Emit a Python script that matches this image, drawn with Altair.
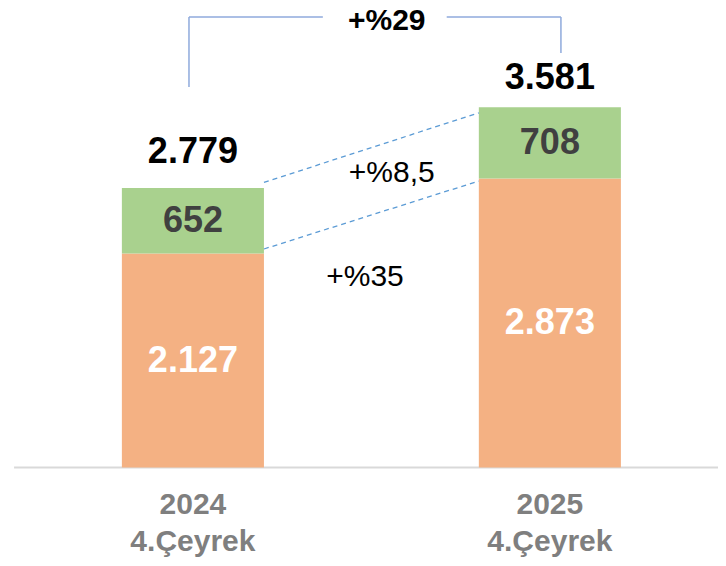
import altair as alt
import pandas as pd

# ---- data ----
periods = ["2024\n4.Çeyrek", "2025\n4.Çeyrek"]
base_values = [2127, 2873]      # orange segment
top_values = [652, 708]         # green segment
totals = [2779, 3581]
growth_total = "+%29"
growth_top = "+%8,5"
growth_base = "+%35"

# ---- style / layout constants ----
ORANGE = "#F4B183"
GREEN = "#A9D18E"
DARK = "#404040"
GRAY = "#7F7F7F"
BLUE_DASH = "#5B9BD5"
BLUE_BRACKET = "#8FAADC"
FONT = "Liberation Sans"

X_DOMAIN = [-0.518, 1.471]
Y_DOMAIN = [-900, 4568]
HALF = 0.199                       # half bar width in x units
TOTAL_LABEL_LIFT = [358, 288]      # label lift above bar tops (y units)
CAT_LABEL_Y = -373
BRACKET_TOP = 4478
BRACKET_LEFT_BOTTOM = 3782
BRACKET_RIGHT_BOTTOM = 4120
BRACKET_X = [-0.011, 1.031]
BRACKET_GAP = [0.364, 0.711]
GROWTH_TOTAL_POS = (0.543, 4440)
GROWTH_TOP_POS = (0.557, 2927)
GROWTH_BASE_POS = (0.482, 1894)

xs = alt.Scale(domain=X_DOMAIN, nice=False, zero=False)
ys = alt.Scale(domain=Y_DOMAIN, nice=False, zero=False)

# segments
seg_rows = []
for i in range(len(periods)):
    seg_rows.append(dict(x0=i - HALF, x1=i + HALF, y0=0, y1=base_values[i],
                         color=ORANGE, label=f"{base_values[i]:,}".replace(",", "."),
                         lc="white", xm=i, ym=base_values[i] / 2))
    seg_rows.append(dict(x0=i - HALF, x1=i + HALF, y0=base_values[i], y1=totals[i],
                         color=GREEN, label=f"{top_values[i]:,}".replace(",", "."),
                         lc=DARK, xm=i, ym=base_values[i] + top_values[i] / 2))
seg = pd.DataFrame(seg_rows)

tot = pd.DataFrame(dict(x=[0, 1],
                        y=[totals[i] + TOTAL_LABEL_LIFT[i] for i in range(2)],
                        label=[f"{t:,}".replace(",", ".") for t in totals]))
cats = pd.DataFrame(dict(x=[0, 1], y=[CAT_LABEL_Y] * 2, label=periods))

baseline = pd.DataFrame(dict(x=[-0.501], x2=[X_DOMAIN[1]], y=[0], y2=[0]))

bracket = pd.DataFrame(dict(
    x=[BRACKET_X[0], BRACKET_X[0], BRACKET_GAP[1], BRACKET_X[1]],
    x2=[BRACKET_X[0], BRACKET_GAP[0], BRACKET_X[1], BRACKET_X[1]],
    y=[BRACKET_LEFT_BOTTOM, BRACKET_TOP, BRACKET_TOP, BRACKET_RIGHT_BOTTOM],
    y2=[BRACKET_TOP, BRACKET_TOP, BRACKET_TOP, BRACKET_TOP],
))

connectors = pd.DataFrame(dict(
    x=[HALF, HALF],
    x2=[1 - HALF, 1 - HALF],
    y=[totals[0] + 55, base_values[0] + 45],
    y2=[totals[1] - 55, base_values[1] - 25],
))

growth = pd.DataFrame(dict(
    x=[GROWTH_TOP_POS[0], GROWTH_BASE_POS[0]],
    y=[GROWTH_TOP_POS[1], GROWTH_BASE_POS[1]],
    label=[growth_top, growth_base],
))
growth_t = pd.DataFrame(dict(x=[GROWTH_TOTAL_POS[0]], y=[GROWTH_TOTAL_POS[1]],
                             label=[growth_total]))

X = lambda f: alt.X(f, type="quantitative", scale=xs, axis=None)
Y = lambda f: alt.Y(f, type="quantitative", scale=ys, axis=None)

bars = alt.Chart(seg).mark_rect().encode(
    x=X("x0"), x2="x1", y=Y("y0"), y2="y1",
    color=alt.Color("color:N", scale=None))

seg_labels = alt.Chart(seg).mark_text(font=FONT, fontSize=36, fontWeight="bold",
                                      baseline="middle").encode(
    x=X("xm"), y=Y("ym"), text="label:N", color=alt.Color("lc:N", scale=None))

tot_labels = alt.Chart(tot).mark_text(font=FONT, fontSize=36, fontWeight="bold",
                                      color="black", baseline="middle").encode(
    x=X("x"), y=Y("y"), text="label:N")

cat_labels = alt.Chart(cats).mark_text(font=FONT, fontSize=30, fontWeight="bold",
                                       color=GRAY, baseline="middle",
                                       lineBreak="\n", lineHeight=37).encode(
    x=X("x"), y=Y("y"), text="label:N")

base_rule = alt.Chart(baseline).mark_rule(color="#D9D9D9", strokeWidth=2).encode(
    x=X("x"), x2="x2", y=Y("y"), y2="y2")

bracket_rules = alt.Chart(bracket).mark_rule(color=BLUE_BRACKET, strokeWidth=1.5).encode(
    x=X("x"), x2="x2", y=Y("y"), y2="y2")

conn_rules = alt.Chart(connectors).mark_rule(color=BLUE_DASH, strokeWidth=1.3,
                                             strokeDash=[5, 4]).encode(
    x=X("x"), x2="x2", y=Y("y"), y2="y2")

growth_labels = alt.Chart(growth).mark_text(font=FONT, fontSize=30, color="black",
                                            baseline="middle").encode(
    x=X("x"), y=Y("y"), text="label:N")

growth_total_label = alt.Chart(growth_t).mark_text(font=FONT, fontSize=30, fontWeight="bold",
                                                   color="black", baseline="middle").encode(
    x=X("x"), y=Y("y"), text="label:N")

chart = alt.layer(
    base_rule, bars, conn_rules, bracket_rules, seg_labels, tot_labels,
    cat_labels, growth_labels, growth_total_label
).properties(
    width=710, height=550, padding=0,
    autosize=alt.AutoSizeParams(type="none"),
    background="white",
).configure_view(strokeWidth=0)

chart.save("out.html", embed_options={"renderer": "svg", "actions": False})
